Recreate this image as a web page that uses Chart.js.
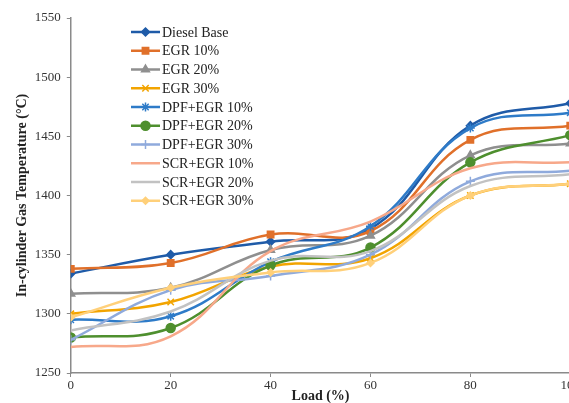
<!DOCTYPE html>
<html>
<head>
<meta charset="utf-8">
<script src="https://cdn.jsdelivr.net/npm/chart.js@4/dist/chart.umd.min.js"></script>
<style>
    html, body { margin: 0; padding: 0; background: #fff; overflow: hidden; }
    #wrap { width: 582px; height: 403px; }
</style>
</head>
<body>
<div id="wrap"><canvas id="tempChart" width="582" height="403"></canvas></div>
<script>
// Load points (%) and in-cylinder gas temperature per case (deg C)
const loads = [0, 20, 40, 60, 80, 100];
const yTicks = [1250, 1300, 1350, 1400, 1450, 1500, 1550];

const seriesNames = ['Diesel Base', 'EGR 10%', 'EGR 20%', 'EGR 30%', 'DPF+EGR 10%',
    'DPF+EGR 20%', 'DPF+EGR 30%', 'SCR+EGR 10%', 'SCR+EGR 20%', 'SCR+EGR 30%'];

const dieselBase = [1334, 1350, 1361, 1372, 1459, 1478];
const egr10 = [1338, 1343, 1367, 1370, 1447, 1459];
const egr20 = [1317, 1322, 1354, 1366, 1434, 1444];
const egr30 = [1300, 1310, 1340, 1347, 1400, 1410];
const dpfEgr10 = [1295, 1298, 1344, 1374, 1457, 1470];
const dpfEgr20 = [1280, 1288, 1341, 1356, 1428, 1451];
const dpfEgr30 = [1278, 1320, 1332, 1350, 1412, 1421];
const scrEgr10 = [1272, 1281, 1353, 1378, 1423, 1428];
const scrEgr20 = [1286, 1302, 1345, 1353, 1408, 1418];
const scrEgr30 = [1297, 1322, 1335, 1343, 1400, 1410];

const seriesValues = [dieselBase, egr10, egr20, egr30, dpfEgr10, dpfEgr20, dpfEgr30, scrEgr10, scrEgr20, scrEgr30];

// styles, same order as the series
const colors = ['#1f5ba8', '#e0702a', '#8f8f8f', '#f2a400', '#2e7bc8',
    '#4e8f2e', '#8faadc', '#f7a88a', '#c2c2c2', '#ffd07a'];
const markers = ['rectRot', 'rect', 'triangle', 'crossRot', 'star', 'circle', 'cross', false, false, 'rectRot'];
const markerSizes = [4, 4.5, 4.5, 4.5, 4.5, 4.5, 4.5, 0, 0, 3.5];

function buildDatasets() {
    const datasets = [];
    for (let i = 0; i < seriesNames.length; i++) {
        datasets.push({
            label: seriesNames[i],
            data: loads.map((x, j) => ({ x: x, y: seriesValues[i][j] })),
            borderColor: colors[i],
            backgroundColor: colors[i],
            borderWidth: 2.5,
            pointStyle: markers[i],
            pointRadius: markerSizes[i],
            pointBorderWidth: 1.5,
            tension: 0.4,
            fill: false,
            order: -i   // later series on top, like the spreadsheet
        });
    }
    return datasets;
}

// legend drawn inside the plot, top-left
const insideLegend = {
    id: 'insideLegend',
    afterDraw(chart) {
        const ctx = chart.ctx;
        const x0 = 131, y0 = 32, step = 18.75;
        ctx.save();
        chart.data.datasets.forEach((ds, i) => {
            const y = y0 + i * step;
            ctx.strokeStyle = ds.borderColor;
            ctx.fillStyle = ds.backgroundColor;
            ctx.lineWidth = 2.5;
            ctx.beginPath();
            ctx.moveTo(x0, y);
            ctx.lineTo(x0 + 29, y);
            ctx.stroke();
            if (ds.pointStyle) {
                ctx.lineWidth = 1.5;
                Chart.helpers.drawPoint(ctx, { pointStyle: ds.pointStyle, radius: ds.pointRadius, borderWidth: 1.5, rotation: 0 }, x0 + 14.5, y);
            }
            ctx.fillStyle = '#222';
            ctx.font = '14px "Liberation Serif", "Times New Roman", serif';
            ctx.textBaseline = 'middle';
            ctx.fillText(ds.label, x0 + 31, y + 1);
        });
        ctx.restore();
    }
};

const serif = '"Liberation Serif", "Times New Roman", serif';

new Chart(document.getElementById('tempChart').getContext('2d'), {
    type: 'line',
    data: { datasets: buildDatasets() },
    options: {
        responsive: false,
        animation: false,
        layout: { padding: { left: 14, right: 0, top: 18, bottom: 0 } },
        scales: {
            x: {
                type: 'linear',
                min: 0,
                max: 100,
                grid: { drawOnChartArea: false, drawTicks: true, tickLength: 4, color: '#8a8a8a' },
                border: { color: '#8a8a8a', width: 1.5 },
                ticks: {
                    stepSize: 20,
                    padding: 2,
                    color: '#333',
                    font: { family: serif, size: 13, lineHeight: 1 },
                    maxRotation: 0
                },
                title: {
                    display: true,
                    text: 'Load (%)',
                    color: '#222',
                    padding: { top: -5, bottom: 0 },
                    font: { family: serif, size: 14, weight: 'bold', lineHeight: 1 }
                }
            },
            y: {
                min: 1250,
                max: 1550,
                afterBuildTicks: (axis) => { axis.ticks = yTicks.map(v => ({ value: v })); },
                grid: { drawOnChartArea: false, drawTicks: true, tickLength: 4, color: '#8a8a8a' },
                border: { color: '#8a8a8a', width: 1.5 },
                ticks: {
                    padding: 6,
                    color: '#333',
                    font: { family: serif, size: 13 },
                    callback: (v) => String(v)
                },
                title: {
                    display: true,
                    text: 'In-cylinder Gas Temperature (\u00B0C)',
                    color: '#222',
                    padding: { top: 0, bottom: -2 },
                    font: { family: serif, size: 14, weight: 'bold' }
                }
            }
        },
        plugins: {
            legend: { display: false },
            tooltip: { enabled: false }
        }
    },
    plugins: [insideLegend]
});
</script>
</body>
</html>
